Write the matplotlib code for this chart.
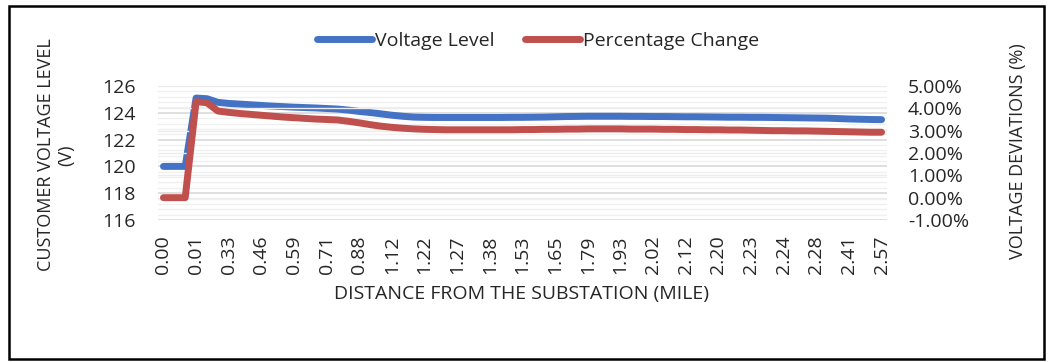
import numpy as np
import matplotlib.pyplot as plt
from matplotlib.patches import Rectangle
from matplotlib.ticker import MultipleLocator, FuncFormatter

plt.rcParams['font.family'] = ['Open Sans', 'DejaVu Sans']

# tick labels shown on the category axis (every third category)
distance_labels = ['0.00', '0.01', '0.33', '0.46', '0.59', '0.71', '0.88', '1.12',
                   '1.22', '1.27', '1.38', '1.53', '1.65', '1.79', '1.93', '2.02',
                   '2.12', '2.20', '2.23', '2.24', '2.28', '2.41', '2.57']

# customer voltage (V), one value per category
voltage = [120.0, 120.0, 120.0, 125.1, 125.05, 124.78, 124.7, 124.65, 124.6, 124.55,
           124.5, 124.46, 124.42, 124.39, 124.36, 124.32, 124.28, 124.2, 124.1, 124.02,
           123.92, 123.82, 123.74, 123.68, 123.66, 123.65, 123.65, 123.65, 123.65, 123.65,
           123.65, 123.65, 123.66, 123.66, 123.67, 123.68, 123.7, 123.72, 123.73, 123.74,
           123.74, 123.74, 123.74, 123.73, 123.73, 123.72, 123.72, 123.71, 123.7, 123.7,
           123.69, 123.68, 123.67, 123.67, 123.66, 123.66, 123.65, 123.64, 123.63, 123.62,
           123.61, 123.6, 123.57, 123.54, 123.52, 123.5, 123.49]

# percentage change (%), one value per category
pct_change = [0.0, 0.0, 0.0, 4.30, 4.25, 3.88, 3.82, 3.77, 3.73, 3.69,
              3.65, 3.61, 3.58, 3.55, 3.52, 3.50, 3.48, 3.42, 3.35, 3.27,
              3.20, 3.15, 3.11, 3.08, 3.06, 3.05, 3.04, 3.04, 3.04, 3.04,
              3.04, 3.04, 3.04, 3.05, 3.05, 3.06, 3.06, 3.07, 3.07, 3.08,
              3.08, 3.08, 3.08, 3.07, 3.07, 3.07, 3.06, 3.06, 3.05, 3.05,
              3.04, 3.04, 3.03, 3.03, 3.02, 3.01, 3.00, 3.00, 2.99, 2.99,
              2.98, 2.97, 2.96, 2.95, 2.94, 2.93, 2.93]

blue = '#4472C4'
red = '#C0504D'
fs = 14
txt = '#262626'

x = np.arange(len(voltage))

fig = plt.figure(figsize=(10.52, 3.62), dpi=100)
ax = fig.add_axes([158 / 1052, 1 - 220 / 362, 729 / 1052, 134 / 362])
ax2 = ax.twinx()

l1, = ax.plot(x, voltage, color=blue, lw=5, solid_capstyle='round',
              solid_joinstyle='round', label='Voltage Level', zorder=3)
l2, = ax2.plot(x, pct_change, color=red, lw=5, solid_capstyle='round',
               solid_joinstyle='round', label='Percentage Change', zorder=3)

ax.set_xlim(-0.5, len(voltage) - 0.5)
ax.set_ylim(116, 126)
ax2.set_ylim(-1, 5)

ax.yaxis.set_major_locator(MultipleLocator(2))
ax.yaxis.set_minor_locator(MultipleLocator(0.4))
ax2.yaxis.set_major_locator(MultipleLocator(1))
ax2.yaxis.set_major_formatter(FuncFormatter(lambda v, p: '%.2f%%' % v))

ax.grid(axis='y', which='major', color='#d9d9d9', lw=1.2, zorder=0)
ax.grid(axis='y', which='minor', color='#f0f0f0', lw=1.0, zorder=0)
ax2.grid(axis='y', which='major', color='#ececec', lw=1.0, zorder=0)

ax.set_xticks(x[::3])
ax.set_xticklabels(distance_labels, rotation=90, fontsize=fs, color=txt)
ax.tick_params(axis='x', length=0, pad=11)
ax.tick_params(axis='y', which='both', length=0, pad=16, labelsize=fs, labelcolor=txt)
ax2.tick_params(axis='y', length=0, pad=15, labelsize=fs, labelcolor=txt)

for a in (ax, ax2):
    for s in a.spines.values():
        s.set_visible(False)

fig.text(56 / 1052, 1 - 155 / 362, 'CUSTOMER VOLTAGE LEVEL\n(V)', rotation=90,
         ha='center', va='center', multialignment='center', fontsize=13, color=txt)
fig.text(1018 / 1052, 1 - 151 / 362, 'VOLTAGE DEVIATIONS (%)', rotation=90,
         ha='center', va='center', fontsize=13, color=txt)
fig.text(521 / 1052, 1 - 294 / 362, 'DISTANCE FROM THE SUBSTATION (MILE)',
         ha='center', va='center', fontsize=fs, color=txt)

fig.legend(handles=[l1, l2], loc='center', bbox_to_anchor=(538 / 1052, 1 - 41 / 362),
           ncol=2, frameon=False, fontsize=fs, handlelength=2.8, handletextpad=0.15,
           columnspacing=1.6, labelcolor=txt)

fig.patches.append(Rectangle((9 / 1052, 3 / 362), 1035 / 1052, 353 / 362,
                             transform=fig.transFigure, fill=False, ec='black', lw=1.8))

fig.savefig('out.png', dpi=100)
